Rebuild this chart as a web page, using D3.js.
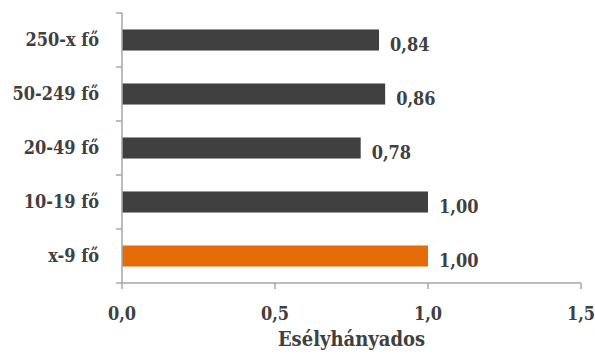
<!DOCTYPE html>
<html><head><meta charset="utf-8">
<script src="https://cdn.jsdelivr.net/npm/d3@7"></script>
<style>body{margin:0;background:#fff}svg{display:block}text{font-stretch:condensed}</style>
</head><body>
<svg id="c" width="595" height="354"></svg>
<script>
const categories = ["250-x fő","50-249 fő","20-49 fő","10-19 fő","x-9 fő"];
const values = [0.84, 0.86, 0.78, 1.00, 1.00];
const labels = ["0,84","0,86","0,78","1,00","1,00"];
const colors = ["#404040","#404040","#404040","#404040","#e36c09"];
const xTicks = [0, 0.5, 1.0, 1.5];
const xTickLabels = ["0,0","0,5","1,0","1,5"];
const xTitle = "Esélyhányados";

(function(){
const svg = d3.select("#c");
const font = "'DejaVu Serif Condensed', 'DejaVu Serif', serif";
const fs = 18;
const L = 122, R = 581, T = 13, B = 283;
const x = d3.scaleLinear().domain([0,1.5]).range([L,R]);
const y = d3.scaleBand().domain(categories).range([T,B]).paddingInner(0.61).paddingOuter(0.305);
const axisCol = "#a6a6a6", textCol = "#404040";

svg.selectAll("rect.bar").data(categories).enter().append("rect")
  .attr("x", x(0)).attr("y", d=>y(d))
  .attr("width", (d,i)=>x(values[i])-x(0)).attr("height", y.bandwidth())
  .attr("fill",(d,i)=>colors[i]);

svg.selectAll("text.val").data(categories).enter().append("text")
  .attr("x",(d,i)=>x(values[i])+11).attr("y",d=>y(d)+y.bandwidth()/2+11)
  .attr("font-family",font).attr("font-weight","bold").attr("font-size",fs)
  .attr("fill",textCol).text((d,i)=>labels[i]);

svg.append("line").attr("x1",L).attr("x2",L).attr("y1",T).attr("y2",B).attr("stroke",axisCol).attr("stroke-width",1.5);
for(let i=0;i<=categories.length;i++){
  const yy = T + i*(B-T)/categories.length;
  svg.append("line").attr("x1",L-6).attr("x2",L).attr("y1",yy).attr("y2",yy).attr("stroke",axisCol).attr("stroke-width",1.5);
}
svg.selectAll("text.cat").data(categories).enter().append("text")
  .attr("x",L-23).attr("y",d=>y(d)+y.bandwidth()/2+6)
  .attr("text-anchor","end")
  .attr("font-family",font).attr("font-weight","bold").attr("font-size",fs)
  .attr("fill",textCol).text(d=>d);

svg.append("line").attr("x1",L).attr("x2",R).attr("y1",B).attr("y2",B).attr("stroke",axisCol).attr("stroke-width",1.5);
svg.selectAll("line.xt").data(xTicks).enter().append("line")
  .attr("x1",d=>x(d)).attr("x2",d=>x(d)).attr("y1",B).attr("y2",B+6)
  .attr("stroke",axisCol).attr("stroke-width",1.5);
svg.selectAll("text.xtl").data(xTicks).enter().append("text")
  .attr("x",d=>x(d)).attr("y",B+37).attr("text-anchor","middle")
  .attr("font-family",font).attr("font-weight","bold").attr("font-size",fs)
  .attr("fill",textCol).text((d,i)=>xTickLabels[i]);
svg.append("text").attr("x",(L+R)/2).attr("y",346).attr("text-anchor","middle")
  .attr("font-family",font).attr("font-weight","bold").attr("font-size",20)
  .attr("fill",textCol).text(xTitle);
})();
</script>
</body></html>
